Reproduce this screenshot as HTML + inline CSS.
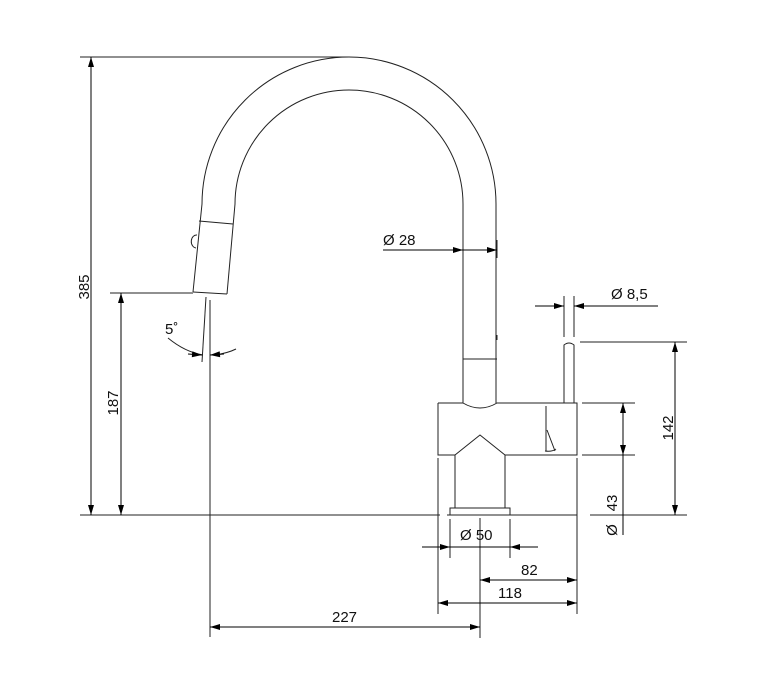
<!DOCTYPE html>
<html><head><style>body{margin:0;background:#fff}svg{display:block}text{font-family:"Liberation Sans",sans-serif;font-size:15px;fill:#111}</style></head>
<body>
<svg width="757" height="694" viewBox="0 0 757 694" xmlns="http://www.w3.org/2000/svg">
<defs>
<marker id="a" viewBox="0 0 10 6" refX="10" refY="3" markerWidth="12" markerHeight="6" markerUnits="userSpaceOnUse" orient="auto-start-reverse"><path d="M0,0L10,3L0,6z" fill="#000"/></marker>
</defs>
<g fill="none" stroke="#222" stroke-width="1">
<path d="M193,292 L202,204 A147,147 0 0 1 496,204 L496,403"/>
<path d="M227,294 L235,204 A114,114 0 0 1 463,204 L463,403"/>
<path d="M193,292 L227,294"/>
<path d="M199,221 L233,224"/>
<path d="M197,235 A4,5 0 0 0 196,248"/>
<path d="M463,359 L497,359"/>
<path d="M497,335 l0,5"/>
<path d="M438,403 L463,403 Q480,413 497,403 L577,403 L577,455 L505,455 L505,508 M438,403 L438,455 L455,455 L455,508"/>
<path d="M455,455 L480,435 L505,455"/>
<path d="M546,406 L546,451 M547,430 L555,451 M545,451 Q552,452 556,449"/>
<rect x="450" y="508" width="60" height="7"/>
<path d="M564,403 L564,345 Q569,341 574,345 L574,403"/>
<path d="M206,297 L202,362"/>
<path d="M168,338 Q185,352 203,355 M215,355 Q228,353 236,349"/>
<path d="M80,57 L348,57 M110,293 L193,293 M80,515 L440,515 M447,515 L577,515 M590,515 L687,515"/>
<path d="M210,300 L210,637 M438,458 L438,614 M480,518 L480,638 M577,458 L577,614 M450,519 L450,558 M510,519 L510,558"/>
<path d="M564,296 L564,337 M574,296 L574,337 M580,342 L687,342 M582,403 L635,403 M582,455 L635,455"/>
<path d="M463,240 L463,258 M497,240 L497,258"/>
</g>
<g stroke="#000" stroke-width="1" fill="none">
<line x1="91" y1="57" x2="91" y2="515" marker-start="url(#a)" marker-end="url(#a)"/>
<line x1="121" y1="293" x2="121" y2="515" marker-start="url(#a)" marker-end="url(#a)"/>
<line x1="675" y1="342" x2="675" y2="515" marker-start="url(#a)" marker-end="url(#a)"/>
<line x1="623" y1="403" x2="623" y2="455" marker-start="url(#a)" marker-end="url(#a)"/>
<line x1="623" y1="455" x2="623" y2="535"/>
<line x1="210" y1="627" x2="480" y2="627" marker-start="url(#a)" marker-end="url(#a)"/>
<line x1="438" y1="603" x2="577" y2="603" marker-start="url(#a)" marker-end="url(#a)"/>
<line x1="480" y1="580" x2="577" y2="580" marker-start="url(#a)" marker-end="url(#a)"/>
<line x1="422" y1="547" x2="450" y2="547" marker-end="url(#a)"/>
<line x1="450" y1="547" x2="510" y2="547"/>
<line x1="538" y1="547" x2="510" y2="547" marker-end="url(#a)"/>
<line x1="383" y1="250" x2="463" y2="250" marker-end="url(#a)"/>
<line x1="463" y1="250" x2="497" y2="250" marker-end="url(#a)"/>
<line x1="535" y1="306" x2="564" y2="306" marker-end="url(#a)"/>
<line x1="658" y1="306" x2="574" y2="306" marker-end="url(#a)"/>
<line x1="188" y1="354" x2="202" y2="355" marker-end="url(#a)"/>
<line x1="224" y1="354" x2="210" y2="355" marker-end="url(#a)"/>
</g>
<text x="383" y="245">Ø  28</text>
<text x="611" y="299">Ø  8,5</text>
<text x="165" y="334">5˚</text>
<text x="460" y="540">Ø  50</text>
<text x="521" y="575">82</text>
<text x="498" y="598">118</text>
<text x="332" y="622">227</text>
<text transform="translate(89,287) rotate(-90)" text-anchor="middle">385</text>
<text transform="translate(118,403) rotate(-90)" text-anchor="middle">187</text>
<text transform="translate(673,428) rotate(-90)" text-anchor="middle">142</text>
<text transform="translate(617,503) rotate(-90)" text-anchor="middle">43</text>
<text transform="translate(617,530) rotate(-90)" text-anchor="middle">Ø</text>
</svg>
</body></html>
